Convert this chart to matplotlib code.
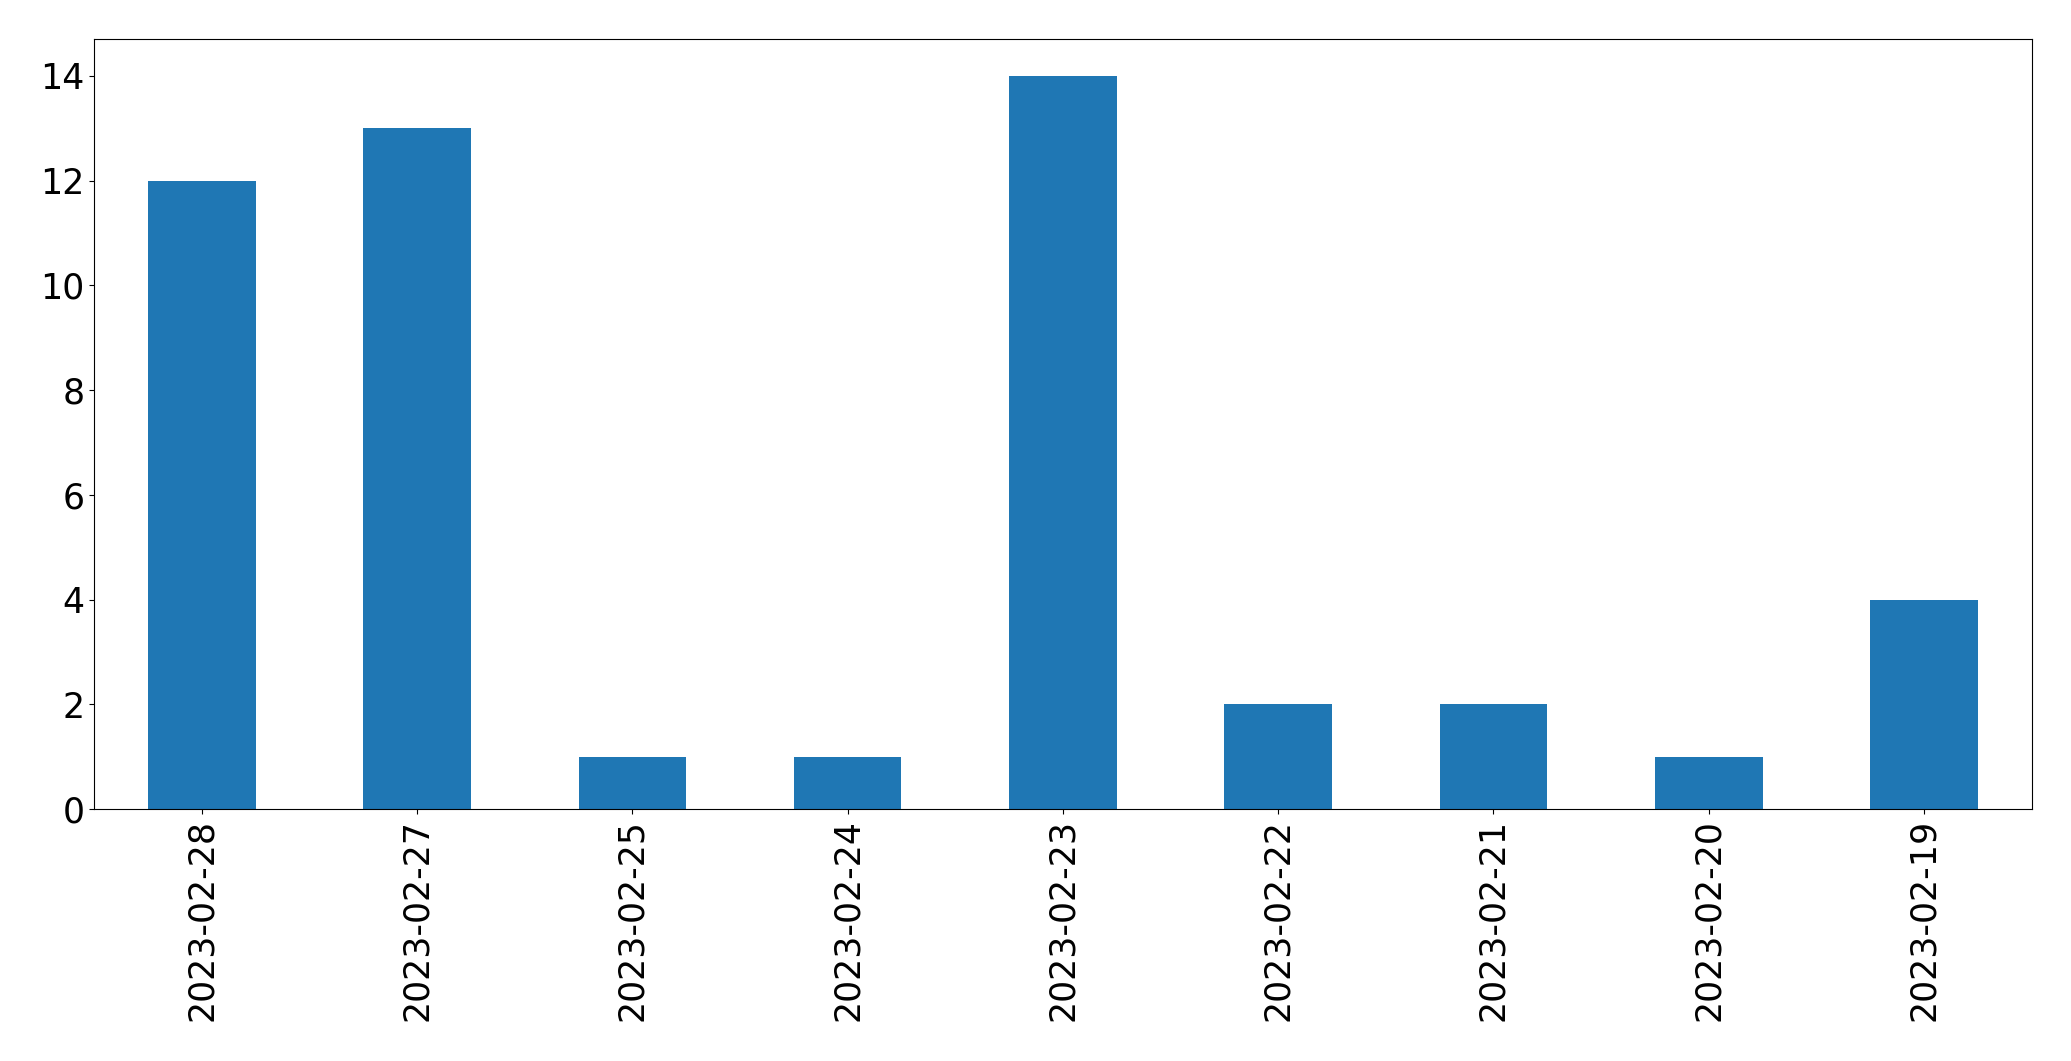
import matplotlib
matplotlib.use("Agg")
import matplotlib.pyplot as plt

dates = ["2023-02-28", "2023-02-27", "2023-02-25", "2023-02-24", "2023-02-23",
         "2023-02-22", "2023-02-21", "2023-02-20", "2023-02-19"]
counts = [12, 13, 1, 1, 14, 2, 2, 1, 4]


def draw_plot():
    fig, ax = plt.subplots(figsize=(20.71, 10.61), dpi=100)
    pos = list(range(len(dates)))
    ax.bar(pos, counts, width=0.5, color="#1f77b4")
    ax.set_xticks(pos)
    ax.set_xticklabels(dates, rotation=90)
    ax.set_xlim(-0.5, len(dates) - 0.5)
    ax.tick_params(axis="both", labelsize=25)
    fig.subplots_adjust(left=0.0455, right=0.981, top=0.963, bottom=0.2375)
    fig.savefig("out.png", dpi=100)


if __name__ == "__main__":
    draw_plot()
